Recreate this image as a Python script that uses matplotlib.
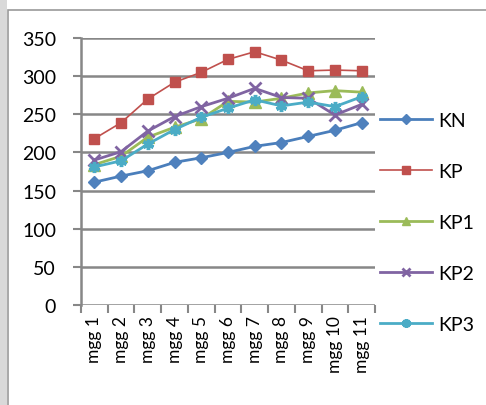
import numpy as np
import matplotlib
matplotlib.use('Agg')
import matplotlib.pyplot as plt
from matplotlib.patches import Rectangle

# data
cats = ['mgg 1', 'mgg 2', 'mgg 3', 'mgg 4', 'mgg 5', 'mgg 6',
        'mgg 7', 'mgg 8', 'mgg 9', 'mgg 10', 'mgg 11']
kn = [161, 169, 176, 187, 193, 200, 208, 213, 221, 229, 239]
kp = [218, 239, 270, 292, 305, 322, 332, 321, 307, 308, 307]
kp1 = [184, 195, 220, 233, 244, 267, 266, 271, 278, 281, 279]
kp2 = [190, 201, 228, 247, 260, 271, 284, 272, 271, 249, 263]
kp3 = [181, 189, 211, 230, 246, 258, 269, 261, 266, 260, 273]

plt.rcParams['font.family'] = ['Lato', 'DejaVu Sans']

fig = plt.figure(figsize=(4.86, 4.06), dpi=100)
W, H = 486, 406

# page background strip and chart border
fig.patches.append(Rectangle((0, 0), 7 / W, 1, transform=fig.transFigure,
                             facecolor='#d9d9d9', edgecolor='none', zorder=0))
fig.patches.append(Rectangle((7.5 / W, -0.1), 1.2, 1 - 11 / H + 0.1,
                             transform=fig.transFigure, facecolor='white',
                             edgecolor='#9a9a9a', linewidth=1.2, zorder=0))

ax = fig.add_axes([81 / W, 1 - 306 / H, (375 - 81) / W, (306 - 39) / H])
ax.set_facecolor('none')
ax.set_zorder(2)

x = np.arange(len(cats))
ax.plot(x, kn, color='#4a7ebb', lw=2, marker='D', ms=6, mfc='#4f81bd', mec='#4f81bd', label='KN')
ax.plot(x, kp, color='#c0504d', lw=1.2, marker='s', ms=7, mfc='#c0504d', mec='#c0504d', label='KP')
ax.plot(x, kp1, color='#9bbb59', lw=2, marker='^', ms=8, mfc='#9bbb59', mec='#9bbb59', label='KP1')
ax.plot(x, kp2, color='#8064a2', lw=2, marker='x', ms=8, mew=2, label='KP2')
ax.plot(x, kp3, color='#4bacc6', lw=2, marker=(6, 2, 0), ms=8, mew=2.5, mec='#4bacc6', label='KP3')

ax.set_ylim(0, 350)
ax.set_yticks(np.arange(0, 351, 50))
ax.set_xlim(-0.5, len(cats) - 0.5)
ax.set_xticks(np.arange(-0.5, len(cats), 1))
ax.set_xticklabels([])
ax.set_xticks(x, minor=True)
ax.set_xticklabels(cats, minor=True, rotation=90, fontsize=12.5)
ax.tick_params(axis='x', which='major', length=6, width=1.5, color='#878787', direction='out')
ax.tick_params(axis='x', which='minor', length=0, pad=7)
ax.tick_params(axis='y', length=6, width=1.5, color='#878787', direction='out', labelsize=14, pad=12)

ax.grid(axis='y', color='#878787', lw=1.8)
ax.set_axisbelow(True)
for s in ['top', 'right', 'bottom']:
    ax.spines[s].set_visible(False)
ax.spines['left'].set_color('#878787')
ax.spines['left'].set_linewidth(1.8)

leg = ax.legend(loc='upper left', bbox_to_anchor=(380 / W, 1 - 113 / H),
                bbox_transform=fig.transFigure, frameon=False, fontsize=14,
                handlelength=2.68, labelspacing=1.75, handletextpad=0.3,
                markerscale=0.8, borderaxespad=0, borderpad=0)

fig.savefig('out.png', dpi=100)
